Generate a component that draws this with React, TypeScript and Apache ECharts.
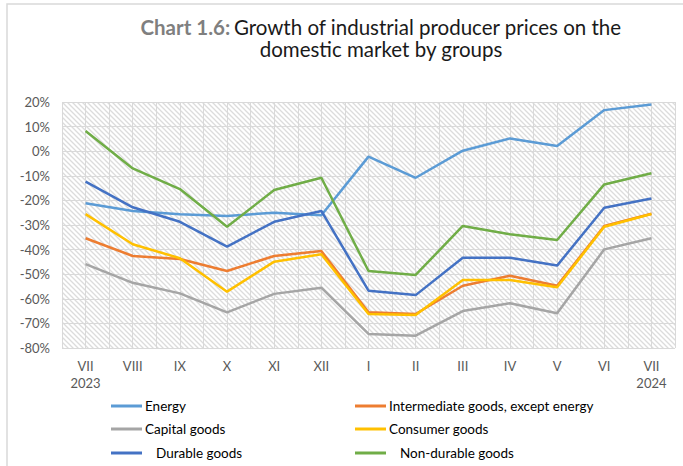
import React, { useEffect, useRef } from "react";
import * as echarts from "echarts";

const categories = ["VII\n2023", "VIII", "IX", "X", "XI", "XII", "I", "II", "III", "IV", "V", "VI", "VII\n2024"];
const yTicks = { min: -80, max: 20, interval: 10 };

const energy = [-21.2, -24.3, -25.6, -26.3, -25.0, -26.0, -2.2, -10.8, 0.2, 5.2, 2.1, 16.7, 19.0];
const intermediate = [-35.4, -42.6, -43.8, -48.7, -42.6, -40.6, -65.5, -66.2, -54.7, -50.6, -54.7, -30.4, -25.4];
const capital = [-45.9, -53.5, -57.8, -65.5, -58.0, -55.5, -74.3, -75.0, -65.0, -61.8, -65.9, -39.9, -35.4];
const consumer = [-25.6, -37.8, -43.5, -57.1, -44.9, -41.9, -66.2, -66.6, -52.4, -52.4, -55.3, -30.7, -25.5];
const durable = [-12.4, -22.8, -28.7, -38.8, -28.7, -24.3, -56.7, -58.5, -43.3, -43.3, -46.5, -23.0, -19.2];
const nonDurable = [8.2, -7.0, -15.4, -30.7, -15.8, -10.8, -48.7, -50.3, -30.4, -33.8, -36.1, -13.5, -9.0];

const seriesDefs = [
  { name: "Energy", data: energy, color: "#5B9BD5" },
  { name: "Intermediate goods, except energy", data: intermediate, color: "#ED7D31" },
  { name: "Capital goods", data: capital, color: "#A5A5A5" },
  { name: "Consumer goods", data: consumer, color: "#FFC000" },
  { name: "Durable goods", data: durable, color: "#4472C4" },
  { name: "Non-durable goods", data: nonDurable, color: "#70AD47" },
];

const FONT = "Lato, 'Open Sans', sans-serif";

function makePattern() {
  const s = 5;
  const c = document.createElement("canvas");
  c.width = s;
  c.height = s;
  const ctx = c.getContext("2d")!;
  ctx.fillStyle = "#ffffff";
  ctx.fillRect(0, 0, s, s);
  ctx.strokeStyle = "#dcdcdc";
  ctx.lineWidth = 1.3;
  ctx.beginPath();
  ctx.moveTo(-1, -1);
  ctx.lineTo(s + 1, s + 1);
  ctx.moveTo(-1, s - 1);
  ctx.lineTo(1, s + 1);
  ctx.moveTo(s - 1, -1);
  ctx.lineTo(s + 1, 1);
  ctx.stroke();
  return c;
}

export default function App() {
  const ref = useRef<HTMLDivElement>(null);
  useEffect(() => {
    if (!ref.current) return;
    const chart = echarts.init(ref.current, null, { renderer: "svg" });
    const legendPos = [
      { left: 111, top: 399 },
      { left: 355, top: 399 },
      { left: 111, top: 422 },
      { left: 355, top: 422 },
      { left: 111, top: 446 },
      { left: 355, top: 446 },
    ];
    const option: any = {
      animation: false,
      backgroundColor: "#ffffff",
      grid: {
        left: 62,
        right: 8,
        top: 102,
        bottom: 118,
        show: true,
        borderWidth: 0,
        backgroundColor: { image: makePattern(), repeat: "repeat" },
      },
      graphic: [
        {
          type: "rect",
          shape: { x: 7, y: 4, width: 720, height: 520 },
          style: { fill: "none", stroke: "#d9d9d9", lineWidth: 1.5 },
          silent: true,
        },
        {
          type: "text",
          x: 381,
          y: 16,
          style: {
            text: "{a|Chart 1.6:} {b|Growth of industrial producer prices on the}\n{b|domestic market by groups}",
            align: "center",
            verticalAlign: "top",
            lineHeight: 22,
            rich: {
              a: { fontFamily: FONT, fontSize: 20.5, fontWeight: "bold", fill: "#7f7f7f", lineHeight: 22 },
              b: { fontFamily: FONT, fontSize: 20.5, fill: "#1a1a1a", lineHeight: 22 },
            },
          },
        },
      ],
      legend: seriesDefs.map((s, i) => ({
        data: [s.name],
        left: legendPos[i].left,
        top: legendPos[i].top,
        padding: 0,
        itemWidth: 31,
        itemHeight: 3,
        itemGap: 0,
        icon: "rect",
        textStyle: {
          fontFamily: FONT,
          fontSize: 13.5,
          color: "#000",
          padding: i >= 4 ? [0, 0, 0, 9] : [0, 0, 0, -2],
        },
        selectedMode: false,
      })),
      xAxis: [
        {
          type: "category",
          data: categories,
          boundaryGap: true,
          axisLine: { show: false },
          axisTick: { show: false },
          splitLine: { show: false },
          axisLabel: {
            fontFamily: FONT,
            fontSize: 13,
            color: "#595959",
            margin: 9,
            lineHeight: 17,
            interval: 0,
          },
        },
        {
          type: "value",
          min: 0,
          max: 26,
          interval: 1,
          show: true,
          position: "bottom",
          axisLine: { show: false },
          axisTick: { show: false },
          axisLabel: { show: false },
          splitLine: { show: true, lineStyle: { color: "#d9d9d9", width: 1 } },
        },
      ],
      yAxis: {
        type: "value",
        min: yTicks.min,
        max: yTicks.max,
        interval: yTicks.interval,
        axisLine: { show: false },
        axisTick: { show: false },
        axisLabel: {
          formatter: "{value}%",
          fontFamily: FONT,
          fontSize: 13,
          color: "#595959",
          margin: 12,
        },
        splitLine: { lineStyle: { color: "#d9d9d9", width: 1.2 } },
      },
      series: seriesDefs.map((s) => ({
        name: s.name,
        type: "line",
        xAxisIndex: 0,
        data: s.data,
        symbol: "none",
        color: s.color,
        lineStyle: { width: 2.5, color: s.color },
        z: 3,
      })),
    };
    chart.setOption(option);
    return () => chart.dispose();
  }, []);
  return (
    <div
      ref={ref}
      style={{ position: "absolute", left: 0, top: 0, width: 683, height: 466 }}
    />
  );
}
